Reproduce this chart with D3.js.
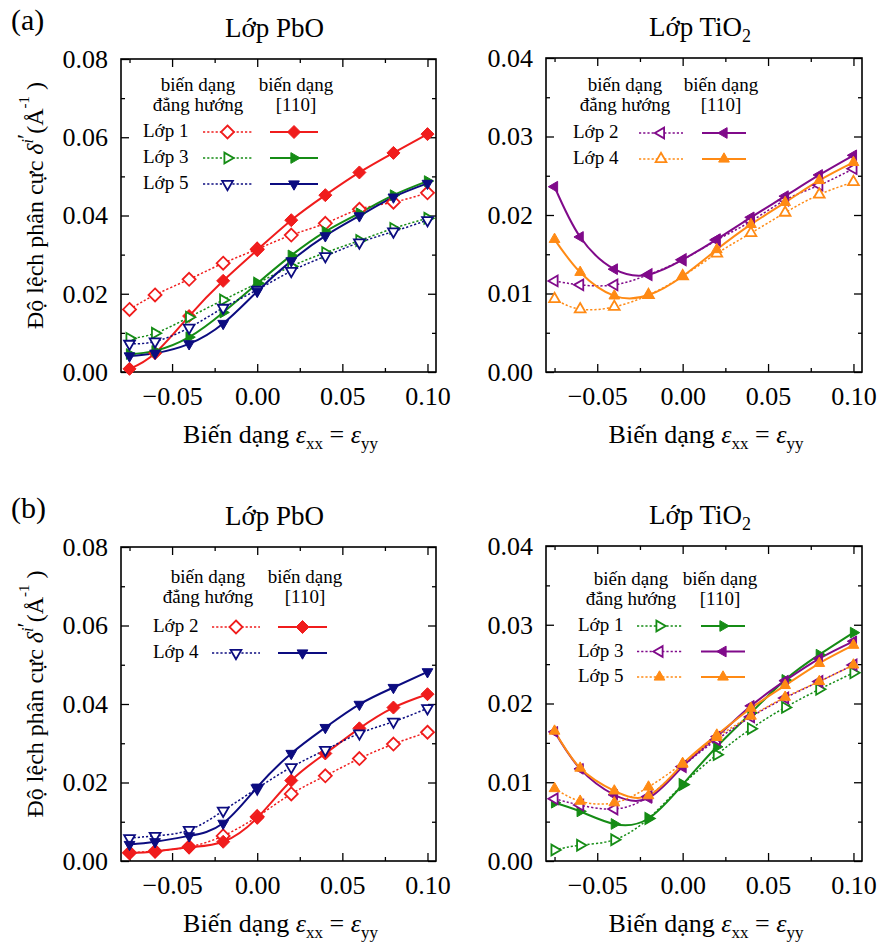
<!DOCTYPE html>
<html><head><meta charset="utf-8">
<script src="https://cdn.jsdelivr.net/npm/d3@7"></script>
<style>body{margin:0;background:#fff}</style>
</head><body>
<script>
// ---------------- DATA ----------------
const strain = [-0.075, -0.06, -0.04, -0.02, 0.0, 0.02, 0.04, 0.06, 0.08, 0.10];
const xTickValues = [-0.05, 0.0, 0.05, 0.10];
const xTickLabels = ["\u22120.05", "0.00", "0.05", "0.10"];
const xMinorValues = [-0.075, -0.025, 0.025, 0.075];
const yTicksPbO = [0, 0.02, 0.04, 0.06, 0.08];
const yTickLabelsPbO = ["0.00", "0.02", "0.04", "0.06", "0.08"];
const yMinorPbO = [0.01, 0.03, 0.05, 0.07];
const yTicksTiO2 = [0, 0.01, 0.02, 0.03, 0.04];
const yTickLabelsTiO2 = ["0.00", "0.01", "0.02", "0.03", "0.04"];
const yMinorTiO2 = [0.005, 0.015, 0.025, 0.035];

// (a) PbO layer
const aPbO_L1_iso = [0.0160, 0.0197, 0.0237, 0.0278, 0.0314, 0.0350, 0.0380, 0.0416, 0.0434, 0.0458];
const aPbO_L1_110 = [0.0008, 0.0048, 0.0143, 0.0233, 0.0312, 0.0388, 0.0452, 0.0510, 0.0560, 0.0608];
const aPbO_L3_iso = [0.0086, 0.0099, 0.0140, 0.0184, 0.0227, 0.0270, 0.0305, 0.0336, 0.0367, 0.0393];
const aPbO_L3_110 = [0.0046, 0.0054, 0.0089, 0.0152, 0.0226, 0.0298, 0.0359, 0.0406, 0.0452, 0.0488];
const aPbO_L5_iso = [0.0072, 0.0078, 0.0113, 0.0164, 0.0210, 0.0258, 0.0296, 0.0331, 0.0359, 0.0388];
const aPbO_L5_110 = [0.0041, 0.0048, 0.0072, 0.0124, 0.0206, 0.0284, 0.0348, 0.0399, 0.0447, 0.0482];
// (a) TiO2 layer
const aTiO2_L2_iso = [0.0116, 0.0111, 0.0111, 0.0124, 0.0143, 0.0168, 0.0192, 0.0219, 0.0238, 0.0259];
const aTiO2_L2_110 = [0.0236, 0.0172, 0.0131, 0.0124, 0.0143, 0.0169, 0.0197, 0.0224, 0.0251, 0.0276];
const aTiO2_L4_iso = [0.0093, 0.0080, 0.0083, 0.0098, 0.0122, 0.0151, 0.0177, 0.0203, 0.0226, 0.0242];
const aTiO2_L4_110 = [0.0169, 0.0127, 0.0097, 0.0098, 0.0122, 0.0156, 0.0188, 0.0216, 0.0244, 0.0267];
// (b) PbO layer
const bPbO_L2_iso = [0.0021, 0.0025, 0.0036, 0.0064, 0.0113, 0.0171, 0.0217, 0.0261, 0.0298, 0.0328];
const bPbO_L2_110 = [0.0020, 0.0024, 0.0035, 0.0049, 0.0110, 0.0205, 0.0274, 0.0338, 0.0391, 0.0425];
const bPbO_L4_iso = [0.0058, 0.0064, 0.0079, 0.0128, 0.0185, 0.0239, 0.0283, 0.0325, 0.0355, 0.0389];
const bPbO_L4_110 = [0.0042, 0.0049, 0.0064, 0.0096, 0.0188, 0.0274, 0.0340, 0.0399, 0.0442, 0.0482];
// (b) TiO2 layer
const bTiO2_L1_iso = [0.0014, 0.0020, 0.0027, 0.0054, 0.0097, 0.0135, 0.0168, 0.0195, 0.0218, 0.0239];
const bTiO2_L1_110 = [0.0074, 0.0063, 0.0047, 0.0054, 0.0097, 0.0145, 0.0188, 0.0230, 0.0262, 0.0290];
const bTiO2_L3_iso = [0.0079, 0.0071, 0.0066, 0.0082, 0.0120, 0.0154, 0.0183, 0.0207, 0.0228, 0.0249];
const bTiO2_L3_110 = [0.0164, 0.0117, 0.0084, 0.0080, 0.0120, 0.0158, 0.0197, 0.0229, 0.0257, 0.0279];
const bTiO2_L5_iso = [0.0092, 0.0076, 0.0074, 0.0094, 0.0124, 0.0157, 0.0184, 0.0208, 0.0228, 0.0249];
const bTiO2_L5_110 = [0.0165, 0.0118, 0.0089, 0.0083, 0.0123, 0.0160, 0.0194, 0.0223, 0.0251, 0.0274];

// ---------------- STYLE ----------------
const FONT = "'Liberation Serif','Times New Roman',serif";
const C = {red:"#f01c1c", green:"#158c15", blue:"#0c0c80", purple:"#800a8a", orange:"#ff8a14"};

const panels = [
  {tag:"(a)", title:"Lớp PbO", sub:"", left:121, right:436, top:59, bottom:372, yMax:0.08,
   yT:yTicksPbO, yL:yTickLabelsPbO, yM:yMinorPbO, ylabel:true,
   legend:{h1x:198, h2x:296, hy:91, lx:143, ry:137, rdy:26, d1:203, d2:252, s1:270, s2:318},
   series:[
     {name:"Lớp 1", color:C.red, shape:"diamond", iso:aPbO_L1_iso, s110:aPbO_L1_110, isoFill:false},
     {name:"Lớp 3", color:C.green, shape:"right", iso:aPbO_L3_iso, s110:aPbO_L3_110, isoFill:false},
     {name:"Lớp 5", color:C.blue, shape:"down", iso:aPbO_L5_iso, s110:aPbO_L5_110, isoFill:false}]},
  {tag:"", title:"Lớp TiO", sub:"2", left:546, right:862, top:58, bottom:372, yMax:0.04,
   yT:yTicksTiO2, yL:yTickLabelsTiO2, yM:yMinorTiO2, ylabel:false,
   legend:{h1x:625, h2x:721, hy:91, lx:573, ry:138, rdy:26, d1:639, d2:683, s1:702, s2:746},
   series:[
     {name:"Lớp 2", color:C.purple, shape:"left", iso:aTiO2_L2_iso, s110:aTiO2_L2_110, isoFill:false},
     {name:"Lớp 4", color:C.orange, shape:"up", iso:aTiO2_L4_iso, s110:aTiO2_L4_110, isoFill:false}]},
  {tag:"(b)", title:"Lớp PbO", sub:"", left:121, right:436, top:547, bottom:861, yMax:0.08,
   yT:yTicksPbO, yL:yTickLabelsPbO, yM:yMinorPbO, ylabel:true,
   legend:{h1x:208, h2x:305, hy:583, lx:153, ry:632, rdy:26, d1:212, d2:260, s1:278, s2:327},
   series:[
     {name:"Lớp 2", color:C.red, shape:"diamond", iso:bPbO_L2_iso, s110:bPbO_L2_110, isoFill:false},
     {name:"Lớp 4", color:C.blue, shape:"down", iso:bPbO_L4_iso, s110:bPbO_L4_110, isoFill:false}]},
  {tag:"", title:"Lớp TiO", sub:"2", left:546, right:862, top:546, bottom:861, yMax:0.04,
   yT:yTicksTiO2, yL:yTickLabelsTiO2, yM:yMinorTiO2, ylabel:false,
   legend:{h1x:631, h2x:720, hy:585, lx:578, ry:631, rdy:25.5, d1:637, d2:682, s1:701, s2:745},
   series:[
     {name:"Lớp 1", color:C.green, shape:"right", iso:bTiO2_L1_iso, s110:bTiO2_L1_110, isoFill:false},
     {name:"Lớp 3", color:C.purple, shape:"left", iso:bTiO2_L3_iso, s110:bTiO2_L3_110, isoFill:false},
     {name:"Lớp 5", color:C.orange, shape:"up", iso:bTiO2_L5_iso, s110:bTiO2_L5_110, isoFill:true}]}
];

const xDomain = [-0.08, 0.105];

const svg = d3.select("body").append("svg").attr("width", 879).attr("height", 944)
  .style("font-family", FONT);

function markerPath(shape) {
  const r = 6.2;
  let pts;
  if (shape === "diamond") { const d = 6.5; pts = [[0,-d],[d,0],[0,d],[-d,0]]; }
  else {
    const base = [[0,-r],[r*0.866,r*0.5],[-r*0.866,r*0.5]];
    const ang = {up:0, right:90, down:180, left:270}[shape] * Math.PI/180;
    pts = base.map(([a,b]) => [a*Math.cos(ang) - b*Math.sin(ang), a*Math.sin(ang) + b*Math.cos(ang)]);
  }
  return "M" + pts.map(p => p[0].toFixed(2) + "," + p[1].toFixed(2)).join("L") + "Z";
}

function drawMarker(g, shape, color, filled, cx, cy) {
  g.append("path").attr("d", markerPath(shape)).attr("transform", `translate(${cx},${cy})`)
    .attr("fill", filled ? color : "#fff").attr("stroke", color)
    .attr("stroke-width", filled ? 1 : 1.8).attr("stroke-linejoin", "miter");
}

const DASH = "2.2,2";

panels.forEach(p => {
  const x = d3.scaleLinear().domain(xDomain).range([p.left, p.right]);
  const y = d3.scaleLinear().domain([0, p.yMax]).range([p.bottom, p.top]);
  const g = svg.append("g");

  const styleAxis = sel => { sel.select(".domain").remove();
    sel.selectAll("line").attr("stroke", "#000").attr("stroke-width", 1.3);
    sel.selectAll("text").attr("font-family", FONT).attr("font-size", 26).attr("fill", "#000"); };

  g.append("g").attr("transform", `translate(0,${p.bottom})`)
    .call(d3.axisBottom(x).tickValues(xTickValues).tickFormat((d,i) => xTickLabels[i]).tickSize(-8).tickSizeOuter(0).tickPadding(15)).call(styleAxis);
  g.append("g").attr("transform", `translate(0,${p.bottom})`)
    .call(d3.axisBottom(x).tickValues(xMinorValues).tickFormat("").tickSize(-4).tickSizeOuter(0)).call(styleAxis);
  g.append("g").attr("transform", `translate(0,${p.top})`)
    .call(d3.axisTop(x).tickValues(xTickValues).tickFormat("").tickSize(-8).tickSizeOuter(0)).call(styleAxis);
  g.append("g").attr("transform", `translate(0,${p.top})`)
    .call(d3.axisTop(x).tickValues(xMinorValues).tickFormat("").tickSize(-4).tickSizeOuter(0)).call(styleAxis);
  g.append("g").attr("transform", `translate(${p.left},0)`)
    .call(d3.axisLeft(y).tickValues(p.yT).tickFormat((d,i) => p.yL[i]).tickSize(-8).tickSizeOuter(0).tickPadding(13)).call(styleAxis);
  g.append("g").attr("transform", `translate(${p.left},0)`)
    .call(d3.axisLeft(y).tickValues(p.yM).tickFormat("").tickSize(-4).tickSizeOuter(0)).call(styleAxis);
  g.append("g").attr("transform", `translate(${p.right},0)`)
    .call(d3.axisRight(y).tickValues(p.yT).tickFormat("").tickSize(-8).tickSizeOuter(0)).call(styleAxis);
  g.append("g").attr("transform", `translate(${p.right},0)`)
    .call(d3.axisRight(y).tickValues(p.yM).tickFormat("").tickSize(-4).tickSizeOuter(0)).call(styleAxis);

  g.append("rect").attr("x", p.left).attr("y", p.top).attr("width", p.right - p.left).attr("height", p.bottom - p.top)
    .attr("fill", "none").attr("stroke", "#000").attr("stroke-width", 1.6);

  const line = d3.line().x((d,i) => x(strain[i])).y(d => y(d)).curve(d3.curveNatural);
  p.series.forEach(s => {
    g.append("path").attr("d", line(s.iso)).attr("fill", "none").attr("stroke", s.color)
      .attr("stroke-width", 1.5).attr("stroke-dasharray", DASH);
    g.append("path").attr("d", line(s.s110)).attr("fill", "none").attr("stroke", s.color)
      .attr("stroke-width", 2);
  });
  p.series.forEach(s => {
    s.iso.forEach((v,i) => drawMarker(g, s.shape, s.color, s.isoFill, x(strain[i]), y(v)));
    s.s110.forEach((v,i) => drawMarker(g, s.shape, s.color, true, x(strain[i]), y(v)));
  });

  const L = p.legend;
  const lg = g.append("g").attr("font-family", FONT).attr("font-size", 19).attr("fill", "#000");
  lg.append("text").attr("x", L.h1x).attr("y", L.hy).attr("text-anchor", "middle").text("biến dạng");
  lg.append("text").attr("x", L.h1x).attr("y", L.hy + 20).attr("text-anchor", "middle").text("đẳng hướng");
  lg.append("text").attr("x", L.h2x).attr("y", L.hy).attr("text-anchor", "middle").text("biến dạng");
  lg.append("text").attr("x", L.h2x).attr("y", L.hy + 20).attr("text-anchor", "middle").text("[110]");
  p.series.forEach((s, k) => {
    const yy = L.ry + k * L.rdy;
    const cy = yy - 5;
    lg.append("text").attr("x", L.lx).attr("y", yy).text(s.name);
    lg.append("line").attr("x1", L.d1).attr("x2", L.d2).attr("y1", cy).attr("y2", cy)
      .attr("stroke", s.color).attr("stroke-width", 1.5).attr("stroke-dasharray", DASH);
    drawMarker(lg, s.shape, s.color, s.isoFill, (L.d1 + L.d2) / 2, cy);
    lg.append("line").attr("x1", L.s1).attr("x2", L.s2).attr("y1", cy).attr("y2", cy)
      .attr("stroke", s.color).attr("stroke-width", 2);
    drawMarker(lg, s.shape, s.color, true, (L.s1 + L.s2) / 2, cy);
  });

  const cx = (p.left + p.right) / 2;
  const t = svg.append("text").attr("x", cx - 4).attr("y", p.top - 22).attr("text-anchor", "middle")
    .attr("font-size", 27).attr("fill", "#000");
  t.append("tspan").text(p.title);
  if (p.sub) t.append("tspan").attr("font-size", 18).attr("dy", 6).text(p.sub);

  if (p.tag) svg.append("text").attr("x", 11).attr("y", p.top - 29).attr("font-size", 30).text(p.tag);

  const xl = svg.append("text").attr("x", cx + 2).attr("y", p.bottom + 71).attr("text-anchor", "middle").attr("font-size", 26);
  xl.append("tspan").text("Biến dạng ");
  xl.append("tspan").attr("font-style", "italic").text("ε");
  xl.append("tspan").attr("font-size", 17).attr("dy", 6).text("xx");
  xl.append("tspan").attr("dy", -6).text(" = ");
  xl.append("tspan").attr("font-style", "italic").text("ε");
  xl.append("tspan").attr("font-size", 17).attr("dy", 6).text("yy");

  if (p.ylabel) {
    const cy = (p.top + p.bottom) / 2 - 10;
    const yl = svg.append("text").attr("transform", `translate(43,${cy}) rotate(-90)`).attr("text-anchor", "middle").attr("font-size", 24);
    yl.append("tspan").text("Độ lệch phân cực ");
    yl.append("tspan").attr("font-style", "italic").text("δ");
    yl.append("tspan").attr("font-size", 16).attr("dy", -10).attr("font-style", "italic").text("i");
    yl.append("tspan").attr("dy", 0).text("′");
    yl.append("tspan").attr("dy", 10).text("(Å");
    yl.append("tspan").attr("font-size", 15).attr("dy", -14).text("-1");
    yl.append("tspan").attr("dy", 14).text(" )");
  }
});
</script>
</body></html>
